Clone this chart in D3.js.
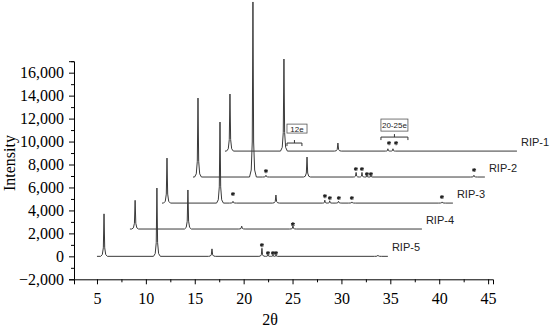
<!DOCTYPE html>
<html>
<head>
<meta charset="utf-8">
<script src="https://cdn.jsdelivr.net/npm/d3@7"></script>
<style>
body { margin: 0; background: #fff; }
svg { display: block; }
</style>
</head>
<body>
<div id="chart"></div>
<script>
// stacked XRD traces (2θ as plotted, offsets included)
var names = ["RIP-5", "RIP-4", "RIP-3", "RIP-2", "RIP-1"];
var baselines = [0, 2380, 4640, 6910, 9170];
var xStart = [5.0, 8.37, 11.65, 14.82, 18.09];
var xEnd = [34.75, 38.23, 41.4, 44.67, 47.95];

// peaks: [2θ, height above baseline]
var peaksRIP5 = [[5.72, 3700], [11.13, 5950], [16.76, 650], [21.87, 700], [22.49, 150], [23.0, 150], [23.31, 150], [33.73, 100]];
var peaksRIP4 = [[8.9, 2500], [14.3, 3400], [19.8, 250], [25.04, 250]];
var peaksRIP3 = [[12.16, 3920], [17.58, 7060], [18.91, 150], [23.3, 700], [28.3, 250], [28.8, 200], [29.7, 150], [31.07, 100], [40.3, 100]];
var peaksRIP2 = [[15.33, 6880], [20.95, 15250], [22.28, 150], [26.48, 1740], [31.5, 400], [32.1, 400], [32.61, 150], [33.02, 150], [43.55, 150]];
var peaksRIP1 = [[18.6, 4970], [24.12, 8020], [29.64, 700], [34.75, 200], [35.27, 200]];
var peakSets = [peaksRIP5, peaksRIP4, peaksRIP3, peaksRIP2, peaksRIP1];

// asterisk markers [2θ, intensity]
var stars = [
  [21.87, 985], [22.49, 290], [23.0, 290], [23.31, 290],
  [25.04, 2800],
  [18.91, 5430], [28.31, 5250], [28.82, 5080], [29.74, 5080], [31.07, 5080], [40.28, 5170],
  [22.28, 7430], [31.48, 7610], [32.1, 7610], [32.61, 7170], [33.02, 7170], [43.57, 7520],
  [34.87, 9870], [35.59, 9870]
];

// boxed notes with brackets: text, box x0,x1,y0,y1, bracket x0,x1,y
var noteText = ["12e", "20-25e"];
var noteBox = [[24.43, 26.48, 10740, 11520], [34.04, 36.8, 10910, 11960]];
var noteBracket = [[24.43, 25.96, 9870], [34.04, 36.8, 10390]];

var xMajor = [5, 10, 15, 20, 25, 30, 35, 40, 45];
var xMinor = [7.5, 12.5, 17.5, 22.5, 27.5, 32.5, 37.5, 42.5];
var yMajor = [-2000, 0, 2000, 4000, 6000, 8000, 10000, 12000, 14000, 16000];
var yMinor = [-1000, 1000, 3000, 5000, 7000, 9000, 11000, 13000, 15000, 17000];

var width = 550, height = 330;

var svg = d3.select("#chart")
    .append("svg")
    .attr("width", width)
    .attr("height", height);

var x = d3.scaleLinear().domain([2.65, 45.5]).range([74, 493]);
var y = d3.scaleLinear().domain([-2000, 17000]).range([279.3, 61.2]);

// build each trace as a polyline: baseline with narrow peak spikes
function tracePoints(i) {
    var base = baselines[i];
    var pk = peakSets[i].slice().sort(function (a, b) { return a[0] - b[0]; });
    var pts = [[xStart[i], base]];
    pk.forEach(function (p, j) {
        var hw = 0.35;
        if (j > 0) hw = Math.min(hw, (p[0] - pk[j - 1][0]) / 2);
        if (j < pk.length - 1) hw = Math.min(hw, (pk[j + 1][0] - p[0]) / 2);
        var h = p[1];
        pts.push([p[0] - hw, base]);
        pts.push([p[0] - hw * 0.5, base + h * 0.04]);
        pts.push([p[0] - hw * 0.2, base + h * 0.2]);
        pts.push([p[0], base + h]);
        pts.push([p[0] + hw * 0.2, base + h * 0.2]);
        pts.push([p[0] + hw * 0.5, base + h * 0.04]);
        pts.push([p[0] + hw, base]);
    });
    pts.push([xEnd[i], base]);
    return pts;
}

var line = d3.line()
    .x(function (d) { return x(d[0]); })
    .y(function (d) { return y(d[1]); });

names.forEach(function (name, i) {
    svg.append("path")
        .datum(tracePoints(i))
        .attr("fill", "none")
        .attr("stroke", "#3a3a3a")
        .attr("stroke-width", 1)
        .attr("d", line);

    svg.append("text")
        .attr("x", x(xEnd[i]) + 4)
        .attr("y", y(baselines[i]) - 5)
        .attr("font-family", "Liberation Sans, Arial, sans-serif")
        .attr("font-size", 11)
        .attr("fill", "#222")
        .text(name);
});

// asterisks
svg.selectAll(".star")
    .data(stars)
    .enter()
    .append("path")
    .attr("class", "star")
    .attr("transform", function (d) { return "translate(" + x(d[0]) + "," + y(d[1]) + ")"; })
    .attr("d", d3.symbol().type(d3.symbolAsterisk).size(12))
    .attr("fill", "none")
    .attr("stroke", "#222")
    .attr("stroke-width", 1.1);

// boxed notes
noteText.forEach(function (t, i) {
    var b = noteBox[i], k = noteBracket[i];
    svg.append("rect")
        .attr("x", x(b[0]))
        .attr("y", y(b[3]))
        .attr("width", x(b[1]) - x(b[0]))
        .attr("height", y(b[2]) - y(b[3]))
        .attr("fill", "#fff")
        .attr("stroke", "#555")
        .attr("stroke-width", 0.8);
    svg.append("text")
        .attr("x", (x(b[0]) + x(b[1])) / 2)
        .attr("y", (y(b[2]) + y(b[3])) / 2 + 3)
        .attr("text-anchor", "middle")
        .attr("font-family", "Liberation Sans, Arial, sans-serif")
        .attr("font-size", 8)
        .attr("fill", "#222")
        .text(t);
    var bx0 = x(k[0]), bx1 = x(k[1]), by = y(k[2]), bm = (bx0 + bx1) / 2;
    svg.append("path")
        .attr("d", "M" + bx0 + "," + (by + 3) + "V" + by + "H" + bx1 + "V" + (by + 3) +
            "M" + bm + "," + by + "V" + (by - 3))
        .attr("fill", "none")
        .attr("stroke", "#333")
        .attr("stroke-width", 1);
});

// axes
svg.append("g")
    .attr("transform", "translate(0," + y(-2000) + ")")
    .call(d3.axisBottom(x).tickValues(xMajor).tickSizeOuter(0).tickSize(5).tickPadding(8));
svg.append("g")
    .attr("transform", "translate(0," + y(-2000) + ")")
    .call(d3.axisBottom(x).tickValues(xMinor).tickSize(3).tickFormat(""))
    .select(".domain").remove();

svg.append("g")
    .attr("transform", "translate(" + x(2.65) + ",0)")
    .call(d3.axisLeft(y).tickValues(yMajor).tickSizeOuter(0).tickSize(5).tickPadding(5).tickFormat(d3.format(",")));
svg.append("g")
    .attr("transform", "translate(" + x(2.65) + ",0)")
    .call(d3.axisLeft(y).tickValues(yMinor).tickSize(3).tickFormat(""))
    .select(".domain").remove();

svg.selectAll(".tick text")
    .attr("font-family", "Liberation Serif, Times New Roman, serif")
    .attr("font-size", 16)
    .attr("fill", "#000");
svg.selectAll(".domain, .tick line").attr("stroke", "#000");

svg.append("text")
    .attr("transform", "translate(15,163) rotate(-90)")
    .attr("text-anchor", "middle")
    .attr("font-family", "Liberation Serif, Times New Roman, serif")
    .attr("font-size", 16)
    .attr("fill", "#000")
    .text("Intensity");

svg.append("text")
    .attr("x", 270)
    .attr("y", 325)
    .attr("text-anchor", "middle")
    .attr("font-family", "Liberation Serif, Times New Roman, serif")
    .attr("font-size", 16)
    .attr("fill", "#000")
    .text("2θ");
</script>
</body>
</html>
